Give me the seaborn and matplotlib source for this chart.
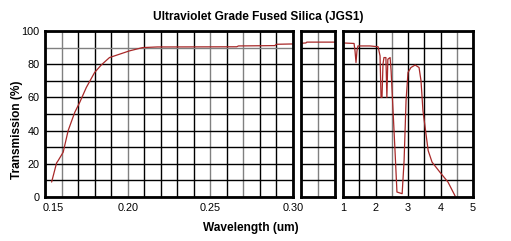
import numpy as np
import pandas as pd
import matplotlib
matplotlib.use("Agg")
import matplotlib.pyplot as plt
import matplotlib.transforms as mtransforms
import seaborn as sns

# ---- data ----
uv_wl = [0.154, 0.157, 0.158, 0.161, 0.164, 0.168, 0.171, 0.175, 0.180, 0.184,
         0.189, 0.195, 0.201, 0.209, 0.218, 0.226, 0.266, 0.267, 0.289, 0.290, 0.300]
uv_t = [9, 20.5, 22, 27, 40, 51, 57, 66, 75, 79.5,
        84, 86, 88, 90, 90.4, 90.4, 90.5, 91.0, 91.2, 92.0, 92.2]

vis_wl = [0.30, 0.40, 0.42, 1.00]
vis_t = [92.6, 92.8, 93.3, 93.3]

ir_wl = [1.00, 1.34, 1.37, 1.40, 1.43, 1.46, 1.83, 2.08, 2.14, 2.17, 2.20, 2.23,
         2.26, 2.32, 2.35, 2.38, 2.45, 2.48, 2.54, 2.60, 2.66, 2.82, 2.88, 2.94,
         3.00, 3.09, 3.22, 3.34, 3.40, 3.46, 3.62, 3.74, 3.98, 4.23, 4.45]
ir_t = [92.8, 92.5, 88, 81, 88, 91, 91, 90.5, 85, 60, 60, 80,
        84, 84, 60, 83, 84, 76, 52, 28, 3, 2, 22, 58,
        75, 78, 79.5, 78, 70, 52, 28, 21, 15, 9, 0.6]

uv_ticks = ["0.15", "", "", "", "", "0.20", "", "", "", "", "0.25", "", "", "", "", "0.30"]
ir_ticks = ["1", "", "2", "", "3", "", "4", "", "5"]
y_ticks = ["0", "", "20", "", "40", "", "60", "", "80", "", "100"]

title = "Ultraviolet Grade Fused Silica (JGS1)"
xlabel = "Wavelength (um)"
ylabel = "Transmission (%)"

# ---- style ----
sns.set_theme(style="white")
plt.rcParams["font.family"] = ["Liberation Sans", "DejaVu Sans"]
plt.rcParams["text.color"] = "black"

W, H = 511, 241
fig = plt.figure(figsize=(W / 100, H / 100), dpi=100)
ax1 = fig.add_axes([45 / W, 44 / H, 248 / W, 166 / H])
ax2 = fig.add_axes([301 / W, 44 / H, 34 / W, 166 / H])
ax3 = fig.add_axes([343 / W, 44 / H, 130 / W, 166 / H])

line_color = "#a82828"
sns.lineplot(data=pd.DataFrame({"wl": uv_wl, "t": uv_t}), x="wl", y="t", ax=ax1,
             color=line_color, lw=0.9, estimator=None)
sns.lineplot(data=pd.DataFrame({"wl": vis_wl, "t": vis_t}), x="wl", y="t", ax=ax2,
             color=line_color, lw=0.9, estimator=None)
sns.lineplot(data=pd.DataFrame({"wl": ir_wl, "t": ir_t}), x="wl", y="t", ax=ax3,
             color=line_color, lw=0.9, estimator=None)

yt = np.linspace(0, 100, len(y_ticks))
for ax in (ax1, ax2, ax3):
    ax.set_ylim(0, 100)
    ax.set_yticks(yt)
    ax.set_xlabel("")
    ax.set_ylabel("")
    ax.grid(True, color="black", lw=1.0)
    ax.set_axisbelow(True)
    for s in ax.spines.values():
        s.set_visible(True)
        s.set_color("black")
        s.set_linewidth(2.0)
    ax.tick_params(length=0, labelsize=7.8, colors="black", pad=4)

ax1.set_xlim(0.15, 0.30)
ax1.set_xticks(np.linspace(0.15, 0.30, len(uv_ticks)))
ax1.set_xticklabels(uv_ticks)
ax1.set_yticklabels(y_ticks)

ax2.set_xlim(0.30, 1.00)
ax2.set_xticks([0.65])
ax2.set_xticklabels([""])
ax2.set_yticklabels([""] * len(y_ticks))

ax3.set_xlim(1, 5)
ax3.set_xticks(np.linspace(1, 5, len(ir_ticks)))
ax3.set_xticklabels(ir_ticks)
ax3.set_yticklabels([""] * len(y_ticks))

# lighter grid lines as seen in the reference
grey = "#808080"
for i in (1, 5, 10, 12):
    ax1.xaxis.get_gridlines()[i].set_color(grey)
ax1.yaxis.get_gridlines()[9].set_color(grey)
ax2.xaxis.get_gridlines()[0].set_color(grey)
for i in (3, 7):
    ax3.xaxis.get_gridlines()[i].set_color(grey)

# shift first label slightly right
lab0 = ax1.get_xticklabels()[0]
lab0.set_transform(lab0.get_transform() + mtransforms.ScaledTranslation(8 / 100, 0, fig.dpi_scale_trans))

fig.text(258 / W, 1 - 17 / H, title, ha="center", va="center", fontsize=8.6,
         fontweight="bold", color="black")
fig.text(251 / W, 1 - 228 / H, xlabel, ha="center", va="center", fontsize=8.6,
         fontweight="bold", color="black")
fig.text(17 / W, 1 - 130 / H, ylabel, ha="center", va="center", rotation=90,
         fontsize=8.6, fontweight="bold", color="black")

fig.savefig("out.png", dpi=100, facecolor="white")
